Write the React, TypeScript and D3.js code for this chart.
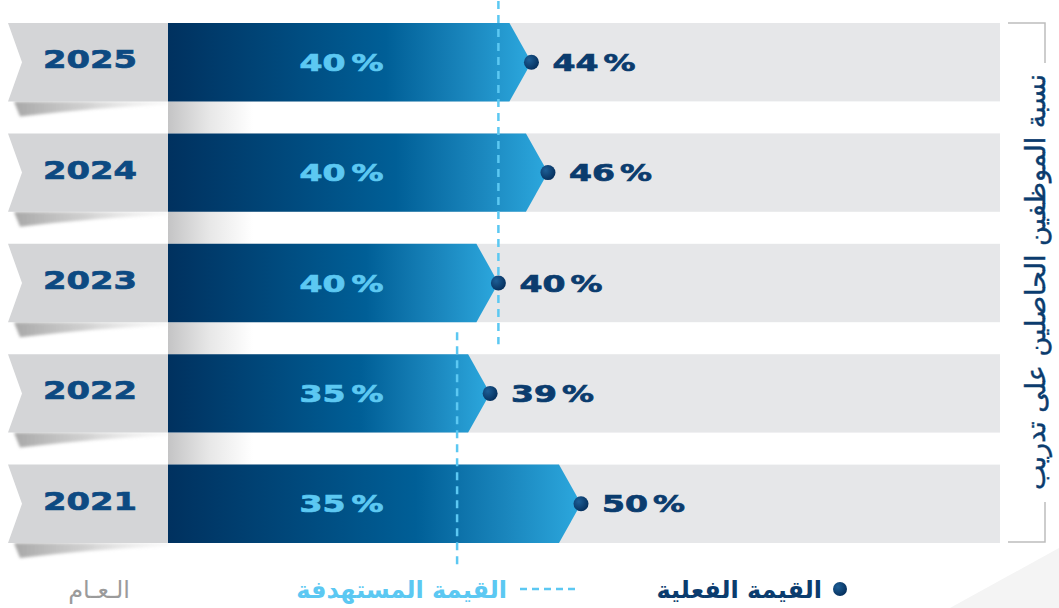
import * as d3 from "d3";

// years top to bottom, actual share and target share (%)
const years = ["2025", "2024", "2023", "2022", "2021"];
const actualValues = [44, 46, 40, 39, 50];
const targetValues = [40, 40, 40, 35, 35];

const titleText = "نسبة الموظفين الحاصلين على تدريب";
const legendActual = "القيمة الفعلية";
const legendTarget = "القيمة المستهدفة";
const legendYear = "الـعـام";

const W = 1059;
const H = 608;
const NAVY = "#0b3c6e";
const YEAR_BLUE = "#0d4a82";
const LIGHT = "#5cc8f2";
const NUM_FONT = "'DejaVu Sans', Verdana, sans-serif";
const AR_FONT = "'DejaVu Sans', 'Noto Sans', sans-serif";

export default function App() {
  const y = d3.scaleBand<string>().domain(years).range([23, 543]).paddingInner(0.29);
  const x = d3.scaleLinear().domain([0, 50]).range([168, 581]);
  const bw = y.bandwidth();
  const tip = 22;
  const x0 = x(0);
  const trackEnd = 1000;
  const innerCx = x(21);

  // group consecutive years sharing the same target
  const groups: { v: number; first: string; last: string }[] = [];
  years.forEach((yr, i) => {
    const g = groups[groups.length - 1];
    if (g && g.v === targetValues[i]) g.last = yr;
    else groups.push({ v: targetValues[i], first: yr, last: yr });
  });

  const arrow = (v: number, top: number) => {
    const xe = x(v);
    const p = d3.path();
    p.moveTo(x0, top);
    p.lineTo(xe - tip, top);
    p.lineTo(xe, top + bw / 2);
    p.lineTo(xe - tip, top + bw);
    p.lineTo(x0, top + bw);
    p.closePath();
    return p.toString();
  };

  const num = (txt: string | number, px: number, py: number, len: number, fill: string) => (
    <text
      x={px}
      y={py}
      fontFamily={NUM_FONT}
      fontWeight="bold"
      fontSize={23}
      fill={fill}
      stroke={fill}
      strokeWidth={0.7}
      textLength={len}
      lengthAdjust="spacingAndGlyphs"
    >
      {txt}
    </text>
  );

  return (
    <svg width={W} height={H} style={{ position: "absolute", left: 0, top: 0, background: "#fff" }}>
      <defs>
        <linearGradient id="barGrad" x1="0" x2="1" y1="0" y2="0">
          <stop offset="0" stopColor="#00315f" />
          <stop offset="0.6" stopColor="#005f97" />
          <stop offset="0.82" stopColor="#1a86bd" />
          <stop offset="1" stopColor="#2ca8de" />
        </linearGradient>
        <linearGradient id="foldGrad" x1="0" x2="1" y1="0" y2="0">
          <stop offset="0" stopColor="#c4c4c5" />
          <stop offset="0.5" stopColor="#e8e8e8" />
          <stop offset="1" stopColor="#ffffff" />
        </linearGradient>
        <linearGradient id="shadowGrad" x1="0" x2="1" y1="0" y2="0">
          <stop offset="0" stopColor="#8a8a8a" stopOpacity="0.75" />
          <stop offset="0.45" stopColor="#a8a8a8" stopOpacity="0.55" />
          <stop offset="1" stopColor="#e2e2e2" stopOpacity="0.2" />
        </linearGradient>
        <radialGradient id="dotGrad" cx="0.35" cy="0.35" r="0.7">
          <stop offset="0" stopColor="#1d5e96" />
          <stop offset="1" stopColor="#052f5c" />
        </radialGradient>
        <filter id="blur" x="-20%" y="-100%" width="140%" height="300%">
          <feGaussianBlur stdDeviation="1.6" />
        </filter>
      </defs>

      {/* faint background wave bottom right */}
      <path d={`M950,${H} Q1010,575 ${W},548 L${W},${H} Z`} fill="#f4f4f4" />

      {/* fold shading between rows */}
      {years.slice(0, -1).map((yr, i) => {
        const b = (y(yr) as number) + bw;
        const nt = y(years[i + 1]) as number;
        return <rect key={"f" + yr} x={x0} y={b} width={85} height={nt - b} fill="url(#foldGrad)" />;
      })}

      {/* rows: tab, track, bar, inside target label */}
      {years.map((yr, i) => {
        const top = y(yr) as number;
        const mid = top + bw / 2;
        const bot = top + bw;
        return (
          <g key={yr}>
            <path
              d={`M14,${bot} L${x0},${bot} L${x0},${bot + 3} Q95,${bot + 6} 20,${bot + 15} Z`}
              fill="url(#shadowGrad)"
              filter="url(#blur)"
            />
            <rect x={x0} y={top} width={trackEnd - x0} height={bw} fill="#e6e7e9" />
            <path
              d={`M8,${top} L${x0},${top} L${x0},${bot} L8,${bot} L22,${mid} Z`}
              fill="#d4d5d7"
            />
            <text
              x={43}
              y={mid + 6}
              fontFamily={NUM_FONT}
              fontWeight="bold"
              fontSize={25}
              fill={YEAR_BLUE}
              stroke={YEAR_BLUE}
              strokeWidth={0.7}
              textLength={94}
              lengthAdjust="spacingAndGlyphs"
            >
              {yr}
            </text>
            <path d={arrow(actualValues[i], top)} fill="url(#barGrad)" />
            {num(targetValues[i], innerCx - 42, mid + 8.5, 46, LIGHT)}
            {num("%", innerCx + 10, mid + 8.5, 32, LIGHT)}
          </g>
        );
      })}

      {/* target dashed lines */}
      {groups.map((g) => (
        <line
          key={g.first + g.v}
          x1={x(g.v)}
          x2={x(g.v)}
          y1={(y(g.first) as number) - 22}
          y2={(y(g.last) as number) + bw + 22}
          stroke={LIGHT}
          strokeWidth={2.5}
          strokeDasharray="8 6"
        />
      ))}

      {/* actual value dots + labels */}
      {years.map((yr, i) => {
        const mid = (y(yr) as number) + bw / 2;
        const xa = x(actualValues[i]);
        return (
          <g key={"a" + yr}>
            <circle cx={xa} cy={mid} r={7.5} fill="url(#dotGrad)" />
            {num(actualValues[i], xa + 21, mid + 8.5, 46, NAVY)}
            {num("%", xa + 72, mid + 8.5, 32, NAVY)}
          </g>
        );
      })}

      {/* right title with bracket */}
      <polyline points="1008,23 1045,23 1045,63" fill="none" stroke="#bdbdbd" strokeWidth={1.5} />
      <polyline points="1045,502 1045,542 1008,542" fill="none" stroke="#bdbdbd" strokeWidth={1.5} />
      <text
        transform="translate(1045,282) rotate(-90)"
        textAnchor="middle"
        fontFamily={AR_FONT}
        fontSize={27}
        fill={NAVY}
        stroke={NAVY}
        strokeWidth={0.4}
      >
        {titleText}
      </text>

      {/* legend */}
      <circle cx={840} cy={589} r={7} fill="url(#dotGrad)" />
      <text x={822} y={598} textAnchor="end" fontFamily={AR_FONT} fontWeight="bold" fontSize={24} fill={NAVY}>
        {legendActual}
      </text>
      <line x1={520} x2={580} y1={589} y2={589} stroke={LIGHT} strokeWidth={2.5} strokeDasharray="7 5" />
      <text x={507} y={598} textAnchor="end" fontFamily={AR_FONT} fontWeight="bold" fontSize={24} fill={LIGHT}>
        {legendTarget}
      </text>
      <text x={130} y={598} textAnchor="end" fontFamily={AR_FONT} fontSize={24} fill="#9b9b9b">
        {legendYear}
      </text>
    </svg>
  );
}
